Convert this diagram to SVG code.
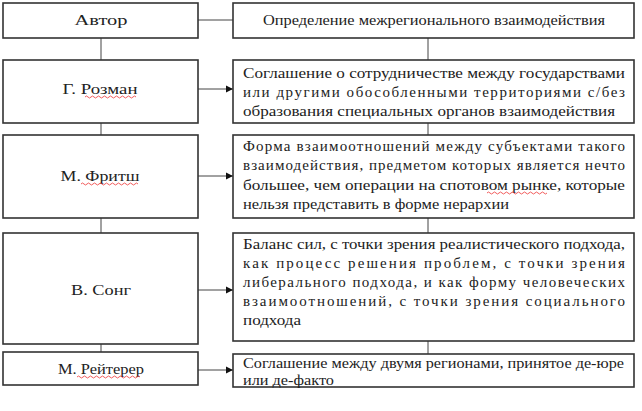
<svg xmlns="http://www.w3.org/2000/svg" width="642" height="411" viewBox="0 0 642 411">
<style>
.b{fill:#fff;stroke:#333;stroke-width:1.6}
.t{font-family:'Liberation Serif','Times New Roman','DejaVu Serif',serif;font-size:15px;fill:#222}
.c{text-anchor:middle}
.l{stroke:#444;stroke-width:1;fill:none}
.w{stroke:#e33;stroke-width:0.8;fill:none}
</style>
<defs><marker id="a" markerWidth="8" markerHeight="8" refX="7" refY="4" orient="auto" markerUnits="userSpaceOnUse"><path d="M0,0.5 L7,4 L0,7.5z" fill="#111"/></marker></defs>
<rect width="642" height="411" fill="#fff"/>
<g id="connectors">
<path class="l" d="M198,20H233"/>
<path class="l" d="M101,38V60M101,123V135M101,218V233M101,344V352"/>
<path class="l" d="M428,38V60M428,123V135M428,218V233M428,341V354"/>
<path class="l" d="M198,89H233" marker-end="url(#a)"/>
<path class="l" d="M198,176H233" marker-end="url(#a)"/>
<path class="l" d="M198,290H233" marker-end="url(#a)"/>
<path class="l" d="M198,370H233" marker-end="url(#a)"/>
</g>
<g id="h1"><rect class="b" x="3" y="3" width="195" height="35"/><text class="t c" x="101" y="25" textLength="53" lengthAdjust="spacingAndGlyphs">Автор</text></g>
<g id="h2"><rect class="b" x="233" y="3" width="401" height="35"/><text class="t c" x="434" y="25" textLength="342" lengthAdjust="spacingAndGlyphs">Определение межрегионального взаимодействия</text></g>
<g id="a1"><rect class="b" x="3" y="60" width="195" height="63"/><text class="t c" x="100" y="94" textLength="75" lengthAdjust="spacingAndGlyphs">Г. Розман</text><path class="w" d="M85,97 q1.5,-2 3,0 t3,0 t3,0 t3,0 t3,0 t3,0 t3,0 t3,0 t3,0 t3,0 t3,0 t3,0 t3,0 t3,0 t3,0 t3,0 t3,0"/></g>
<g id="d1"><rect class="b" x="233" y="60" width="401" height="63"/>
<text class="t" x="243" y="78" textLength="382" lengthAdjust="spacingAndGlyphs">Соглашение о сотрудничестве между государствами</text>
<text class="t" x="243" y="97" textLength="382" lengthAdjust="spacing">или другими обособленными территориями с/без</text>
<text class="t" x="243" y="116" textLength="372" lengthAdjust="spacingAndGlyphs">образования специальных органов взаимодействия</text></g>
<g id="a2"><rect class="b" x="3" y="135" width="195" height="83"/><text class="t c" x="100" y="181" textLength="79" lengthAdjust="spacingAndGlyphs">М. Фритш</text><path class="w" d="M81,184 q1.5,-2 3,0 t3,0 t3,0 t3,0 t3,0 t3,0 t3,0 t3,0 t3,0 t3,0 t3,0 t3,0 t3,0 t3,0 t3,0 t3,0 t3,0 t3,0 t3,0"/></g>
<g id="d2"><rect class="b" x="233" y="135" width="401" height="83"/>
<text class="t" x="243" y="151" textLength="382" lengthAdjust="spacing">Форма взаимоотношений между субъектами такого</text>
<text class="t" x="243" y="170" textLength="382" lengthAdjust="spacing">взаимодействия, предметом которых является нечто</text>
<text class="t" x="243" y="190" textLength="382" lengthAdjust="spacingAndGlyphs">большее, чем операции на спотовом рынке, которые</text>
<path class="w" d="M487,193 q1.5,-2 3,0 t3,0 t3,0 t3,0 t3,0 t3,0 t3,0 t3,0 t3,0 t3,0 t3,0 t3,0 t3,0 t3,0 t3,0 t3,0 t3,0 t3,0 t3,0 t3,0"/>
<text class="t" x="243" y="209" textLength="266" lengthAdjust="spacingAndGlyphs">нельзя представить в форме нерархии</text></g>
<g id="a3"><rect class="b" x="3" y="233" width="195" height="111"/><text class="t c" x="101" y="295" textLength="60" lengthAdjust="spacingAndGlyphs">В. Сонг</text></g>
<g id="d3"><rect class="b" x="233" y="233" width="401" height="108"/>
<text class="t" x="243" y="249" textLength="382" lengthAdjust="spacingAndGlyphs">Баланс сил, с точки зрения реалистического подхода,</text>
<text class="t" x="243" y="268" textLength="382" lengthAdjust="spacing">как процесс решения проблем, с точки зрения</text>
<text class="t" x="243" y="287" textLength="382" lengthAdjust="spacing">либерального подхода, и как форму человеческих</text>
<text class="t" x="243" y="306" textLength="382" lengthAdjust="spacing">взаимоотношений, с точки зрения социального</text>
<text class="t" x="243" y="325" textLength="58" lengthAdjust="spacingAndGlyphs">подхода</text></g>
<g id="a4"><rect class="b" x="3" y="352" width="195" height="33"/><text class="t c" x="101" y="374" textLength="86" lengthAdjust="spacingAndGlyphs">М. Рейтерер</text><path class="w" d="M77,377 q1.5,-2 3,0 t3,0 t3,0 t3,0 t3,0 t3,0 t3,0 t3,0 t3,0 t3,0 t3,0 t3,0 t3,0 t3,0 t3,0 t3,0 t3,0 t3,0 t3,0 t3,0 t3,0"/></g>
<g id="d4"><rect class="b" x="233" y="354" width="401" height="33"/>
<text class="t" x="243" y="368" textLength="381" lengthAdjust="spacingAndGlyphs">Соглашение между двумя регионами, принятое де-юре</text>
<text class="t" x="243" y="385" textLength="91" lengthAdjust="spacingAndGlyphs">или де-факто</text></g>
</svg>
